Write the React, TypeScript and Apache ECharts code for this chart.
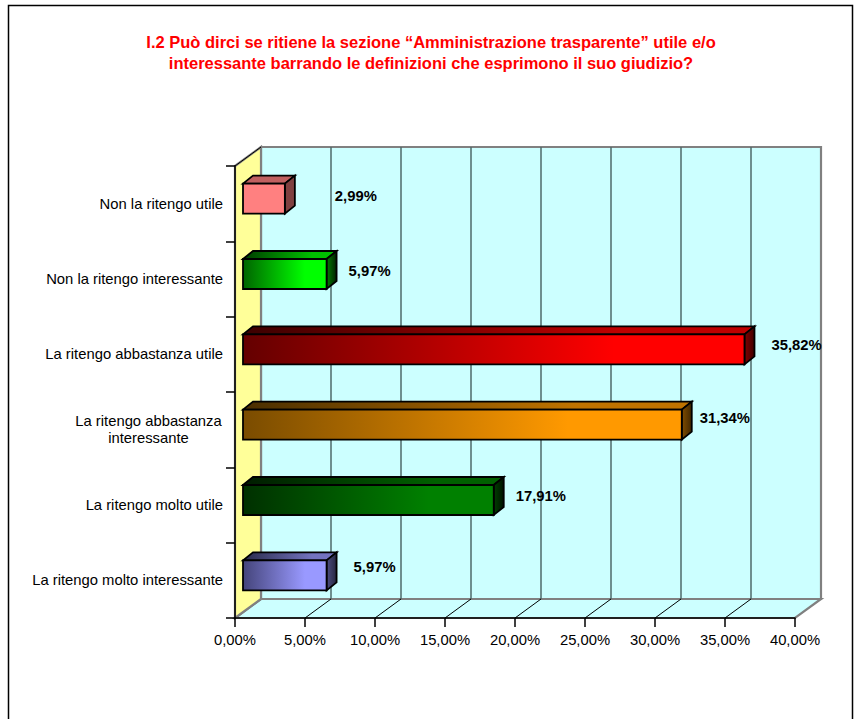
import React, { useEffect, useRef } from "react";
import * as echarts from "echarts";

const titleLines = [
  "I.2 Può dirci se ritiene la sezione “Amministrazione trasparente” utile e/o",
  "interessante barrando le definizioni che esprimono il suo giudizio?",
];
const categories = [
  "Non la ritengo utile",
  "Non la ritengo interessante",
  "La ritengo abbastanza utile",
  "La ritengo abbastanza\ninteressante",
  "La ritengo molto utile",
  "La ritengo molto interessante",
];
const values = [2.99, 5.97, 35.82, 31.34, 17.91, 5.97];
const xTicks = [0, 5, 10, 15, 20, 25, 30, 35, 40];

// style tables: [front left, front right, top left, top right, side left, side right]
const barColors = [
  ["#ff8080", "#ff8080", "#c06060", "#c06060", "#804040", "#804040"],
  ["#006400", "#00ff00", "#003c00", "#00bf00", "#008000", "#002000"],
  ["#640000", "#ff0000", "#3c0000", "#bf0000", "#800000", "#400000"],
  ["#7a4c00", "#ff9900", "#4a2e00", "#bf7300", "#804d00", "#402600"],
  ["#003000", "#008000", "#001c00", "#006000", "#004000", "#001000"],
  ["#44447a", "#9999ff", "#292a4a", "#7373bf", "#4d4d80", "#262640"],
];
const labelDx = [50, 22, 27, 18, 22, 27];
const labelDy = [-8, -8, -9, -12, -9, -13];

const WALL_DX = 26;
const WALL_DY = -19;
const BAR_X = 8;
const BAR_Y = -5;
const BAR_H = 30;
const BAR_DX = 10;
const BAR_DY = -8;
const WALL_GRAY = "#808080";
const FONT = "Liberation Sans";
const TEXT_SIZE = 14.8;
const GRAD_FULL = 0.74;

const fmt = (v: number) => v.toFixed(2).replace(".", ",") + "%";
const hGrad = (a: string, b: string, full = 1) => ({
  type: "linear",
  x: 0,
  y: 0,
  x2: 1,
  y2: 0,
  colorStops: [
    { offset: 0, color: a },
    { offset: full, color: b },
    { offset: 1, color: b },
  ],
});

function wallsItem(params: any) {
  const { x, y, width: w, height: h } = params.coordSys;
  const dx = WALL_DX;
  const dy = WALL_DY;
  const edge = { stroke: WALL_GRAY, lineWidth: 2.2 };
  return {
    type: "group",
    children: [
      {
        type: "rect",
        shape: { x: x + dx, y: y + dy, width: w, height: h },
        style: { fill: "#ccffff", ...edge },
      },
      {
        type: "polygon",
        shape: { points: [[x, y + h], [x + w, y + h], [x + w + dx, y + h + dy], [x + dx, y + h + dy]] },
        style: { fill: "#ccffff", ...edge },
      },
      {
        type: "polygon",
        shape: { points: [[x, y], [x + dx, y + dy], [x + dx, y + h + dy], [x, y + h]] },
        style: { fill: "#ffff99", ...edge },
      },
      {
        type: "line",
        shape: { x1: x, y1: y, x2: x + dx, y2: y + dy },
        style: { stroke: "#000", lineWidth: 1 },
      },
    ],
  };
}

function tickItem(params: any, api: any) {
  const cs = params.coordSys;
  const px = api.coord([api.value(0), 0])[0];
  const bottom = cs.y + cs.height;
  const children: any[] = [];
  if (api.value(0) > 0 && api.value(0) < 40) {
    children.push({
      type: "line",
      shape: { x1: px + WALL_DX, y1: cs.y + WALL_DY, x2: px + WALL_DX, y2: bottom + WALL_DY },
      style: { stroke: "#4f6a6a", lineWidth: 1.5 },
    });
    children.push({
      type: "line",
      shape: { x1: px, y1: bottom, x2: px + WALL_DX, y2: bottom + WALL_DY },
      style: { stroke: "#000", lineWidth: 1 },
    });
  }
  return { type: "group", children };
}

function barItem(_params: any, api: any) {
  const i = api.value(1);
  const [x1, cy] = api.coord([api.value(0), i]);
  const [x0] = api.coord([0, i]);
  const c = barColors[i];
  const l = x0 + BAR_X;
  const r = x1 + BAR_X;
  const t = cy + BAR_Y - BAR_H / 2;
  const b = t + BAR_H;
  const line = { stroke: "#000", lineWidth: 1.8, lineJoin: "miter" };
  return {
    type: "group",
    children: [
      {
        type: "polygon",
        shape: { points: [[l, t], [l + BAR_DX, t + BAR_DY], [r + BAR_DX, t + BAR_DY], [r, t]] },
        style: { fill: hGrad(c[2], c[3], GRAD_FULL), ...line },
      },
      {
        type: "polygon",
        shape: { points: [[r, t], [r + BAR_DX, t + BAR_DY], [r + BAR_DX, b + BAR_DY], [r, b]] },
        style: { fill: hGrad(c[4], c[5]), ...line },
      },
      {
        type: "rect",
        shape: { x: l, y: t, width: r - l, height: BAR_H },
        style: { fill: hGrad(c[0], c[1], GRAD_FULL), ...line },
      },
    ],
  };
}

function labelItem(_params: any, api: any) {
  const i = api.value(1);
  const [x1, cy] = api.coord([api.value(0), i]);
  return {
    type: "text",
    style: {
      text: fmt(api.value(0)),
      x: x1 + BAR_X + labelDx[i],
      y: cy + labelDy[i],
      align: "left",
      verticalAlign: "middle",
      fill: "#000",
      font: `bold ${TEXT_SIZE}px "${FONT}"`,
    },
  };
}

export default function App() {
  const ref = useRef<HTMLDivElement>(null);
  useEffect(() => {
    const chart = echarts.init(ref.current!, undefined, { renderer: "svg" });
    const barData = values.map((v, i) => [v, i]);
    chart.setOption({
      animation: false,
      backgroundColor: "#fff",
      title: {
        text: titleLines.join("\n"),
        left: 426,
        top: 26,
        textAlign: "center",
        textStyle: {
          color: "#ff0000",
          fontFamily: FONT,
          fontWeight: "bold",
          fontSize: 16.5,
          lineHeight: 21.5,
        },
      },
      graphic: [
        {
          type: "rect",
          z: -10,
          shape: { x: 8.5, y: 5.5, width: 844, height: 740 },
          style: { fill: "none", stroke: "#000", lineWidth: 1.5 },
        },
      ],
      grid: { left: 235, top: 166, width: 560, height: 452, containLabel: false },
      xAxis: {
        type: "value",
        min: 0,
        max: 40,
        interval: 5,
        z: 3,
        splitLine: { show: false },
        axisLine: { show: true, lineStyle: { color: "#000", width: 1.5 } },
        axisTick: { show: true, length: 9, lineStyle: { color: "#000", width: 1.5 } },
        axisLabel: {
          formatter: (v: number) => fmt(v),
          color: "#000",
          fontFamily: FONT,
          fontSize: TEXT_SIZE,
          margin: 14,
          hideOverlap: false,
        },
      },
      yAxis: {
        type: "category",
        inverse: true,
        data: categories,
        z: 3,
        axisLine: { show: true, lineStyle: { color: "#000", width: 1.5 } },
        axisTick: { show: true, length: 9, lineStyle: { color: "#000", width: 1.5 } },
        axisLabel: {
          interval: 0,
          color: "#000",
          fontFamily: FONT,
          fontSize: TEXT_SIZE,
          margin: 12,
          lineHeight: 17,
          formatter: (v: string) =>
            v.includes("\n")
              ? v
                  .split("\n")
                  .map((s) => `{c|${s}}`)
                  .join("\n")
              : v,
          rich: {
            c: {
              width: 149,
              align: "center",
              fontFamily: FONT,
              fontSize: TEXT_SIZE,
              color: "#000",
              lineHeight: 17,
            },
          },
        },
      },
      series: [
        {
          type: "custom",
          name: "walls",
          z: 1,
          silent: true,
          clip: false,
          data: [[0, 0]],
          encode: { x: 0, y: 1 },
          renderItem: wallsItem,
        },
        {
          type: "custom",
          name: "grid",
          z: 2,
          silent: true,
          clip: false,
          data: xTicks.map((t) => [t, 0]),
          encode: { x: 0, y: 1 },
          renderItem: tickItem,
        },
        {
          type: "custom",
          name: "bars",
          z: 4,
          clip: false,
          data: barData,
          encode: { x: 0, y: 1 },
          renderItem: barItem,
        },
        {
          type: "custom",
          name: "labels",
          z: 5,
          clip: false,
          data: barData,
          encode: { x: 0, y: 1 },
          renderItem: labelItem,
        },
      ],
    });
    return () => chart.dispose();
  }, []);
  return (
    <div
      ref={ref}
      style={{ position: "absolute", left: 0, top: 0, width: 856, height: 719, overflow: "hidden" }}
    />
  );
}
